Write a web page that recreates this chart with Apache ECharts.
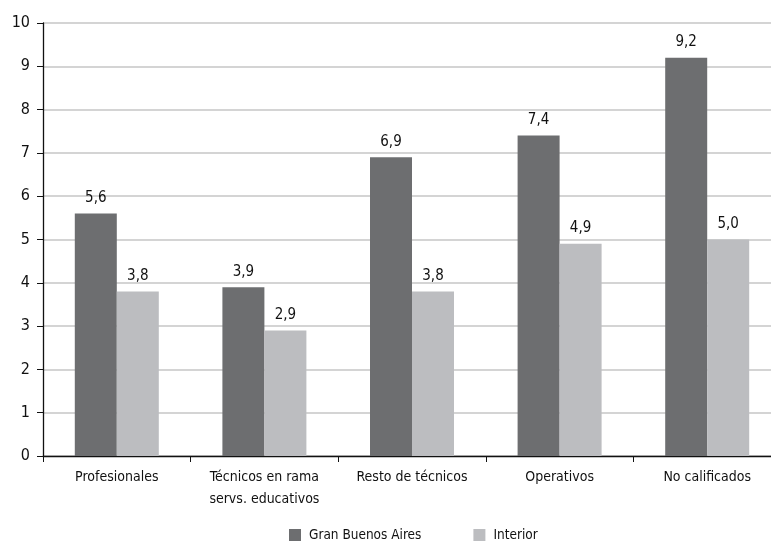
<!DOCTYPE html>
<html>
<head>
<meta charset="utf-8">
<script src="https://cdn.jsdelivr.net/npm/echarts@6/dist/echarts.min.js"></script>
<style>
  html, body { margin: 0; padding: 0; background: #fff; }
  #chart { width: 771px; height: 543px; }
</style>
</head>
<body>
<div id="chart"></div>
<script>
// Occupational categories and values per region
const categories = ['Profesionales', 'Técnicos en rama\nservs. educativos', 'Resto de técnicos', 'Operativos', 'No calificados'];
const granBuenosAires = [5.6, 3.9, 6.9, 7.4, 9.2];
const interior = [3.8, 2.9, 3.8, 4.9, 5.0];
const seriesNames = ['Gran Buenos Aires', 'Interior'];

const FONT = '"DejaVu Sans Condensed", sans-serif';
const fmt = v => v.toFixed(1).replace('.', ',');

const chart = echarts.init(document.getElementById('chart'), null, { renderer: 'canvas' });

const labelStyle = {
  show: true,
  position: 'top',
  distance: 8,
  color: '#111',
  fontFamily: FONT,
  fontSize: 15,
  formatter: p => fmt(p.value)
};

chart.setOption({
  animation: false,
  textStyle: { fontFamily: FONT },
  grid: { left: 43, width: 738, top: 23, bottom: 87, containLabel: false, outerBoundsMode: 'none' },
  legend: {
    top: 523,
    left: 284,
    itemWidth: 12,
    itemHeight: 12,
    itemGap: 52,
    icon: 'rect',
    textStyle: { color: '#111', fontSize: 13.5, fontFamily: FONT, padding: [0, 0, 0, 3] },
    data: seriesNames
  },
  xAxis: {
    type: 'category',
    data: categories,
    axisLine: { lineStyle: { color: '#111', width: 1.3 } },
    axisTick: { show: true, interval: 0, length: 6, lineStyle: { color: '#111' } },
    axisLabel: { interval: 0, color: '#111', fontSize: 14, fontFamily: FONT, margin: 10, lineHeight: 22 }
  },
  yAxis: {
    type: 'value',
    min: 0,
    max: 10,
    interval: 1,
    axisLine: { show: true, lineStyle: { color: '#111', width: 1.3 } },
    axisTick: { show: true, length: 6, lineStyle: { color: '#111' } },
    splitLine: { lineStyle: { color: '#c6c6c6', width: 1.5 } },
    axisLabel: { color: '#111', fontSize: 16, fontFamily: FONT, margin: 13 }
  },
  series: [
    {
      name: seriesNames[0],
      type: 'bar',
      data: granBuenosAires,
      barWidth: 42,
      barGap: '0%',
      itemStyle: { color: '#6d6e70' },
      label: labelStyle
    },
    {
      name: seriesNames[1],
      type: 'bar',
      data: interior,
      barWidth: 42,
      itemStyle: { color: '#bcbdc0' },
      label: labelStyle
    }
  ]
});
</script>
</body>
</html>
